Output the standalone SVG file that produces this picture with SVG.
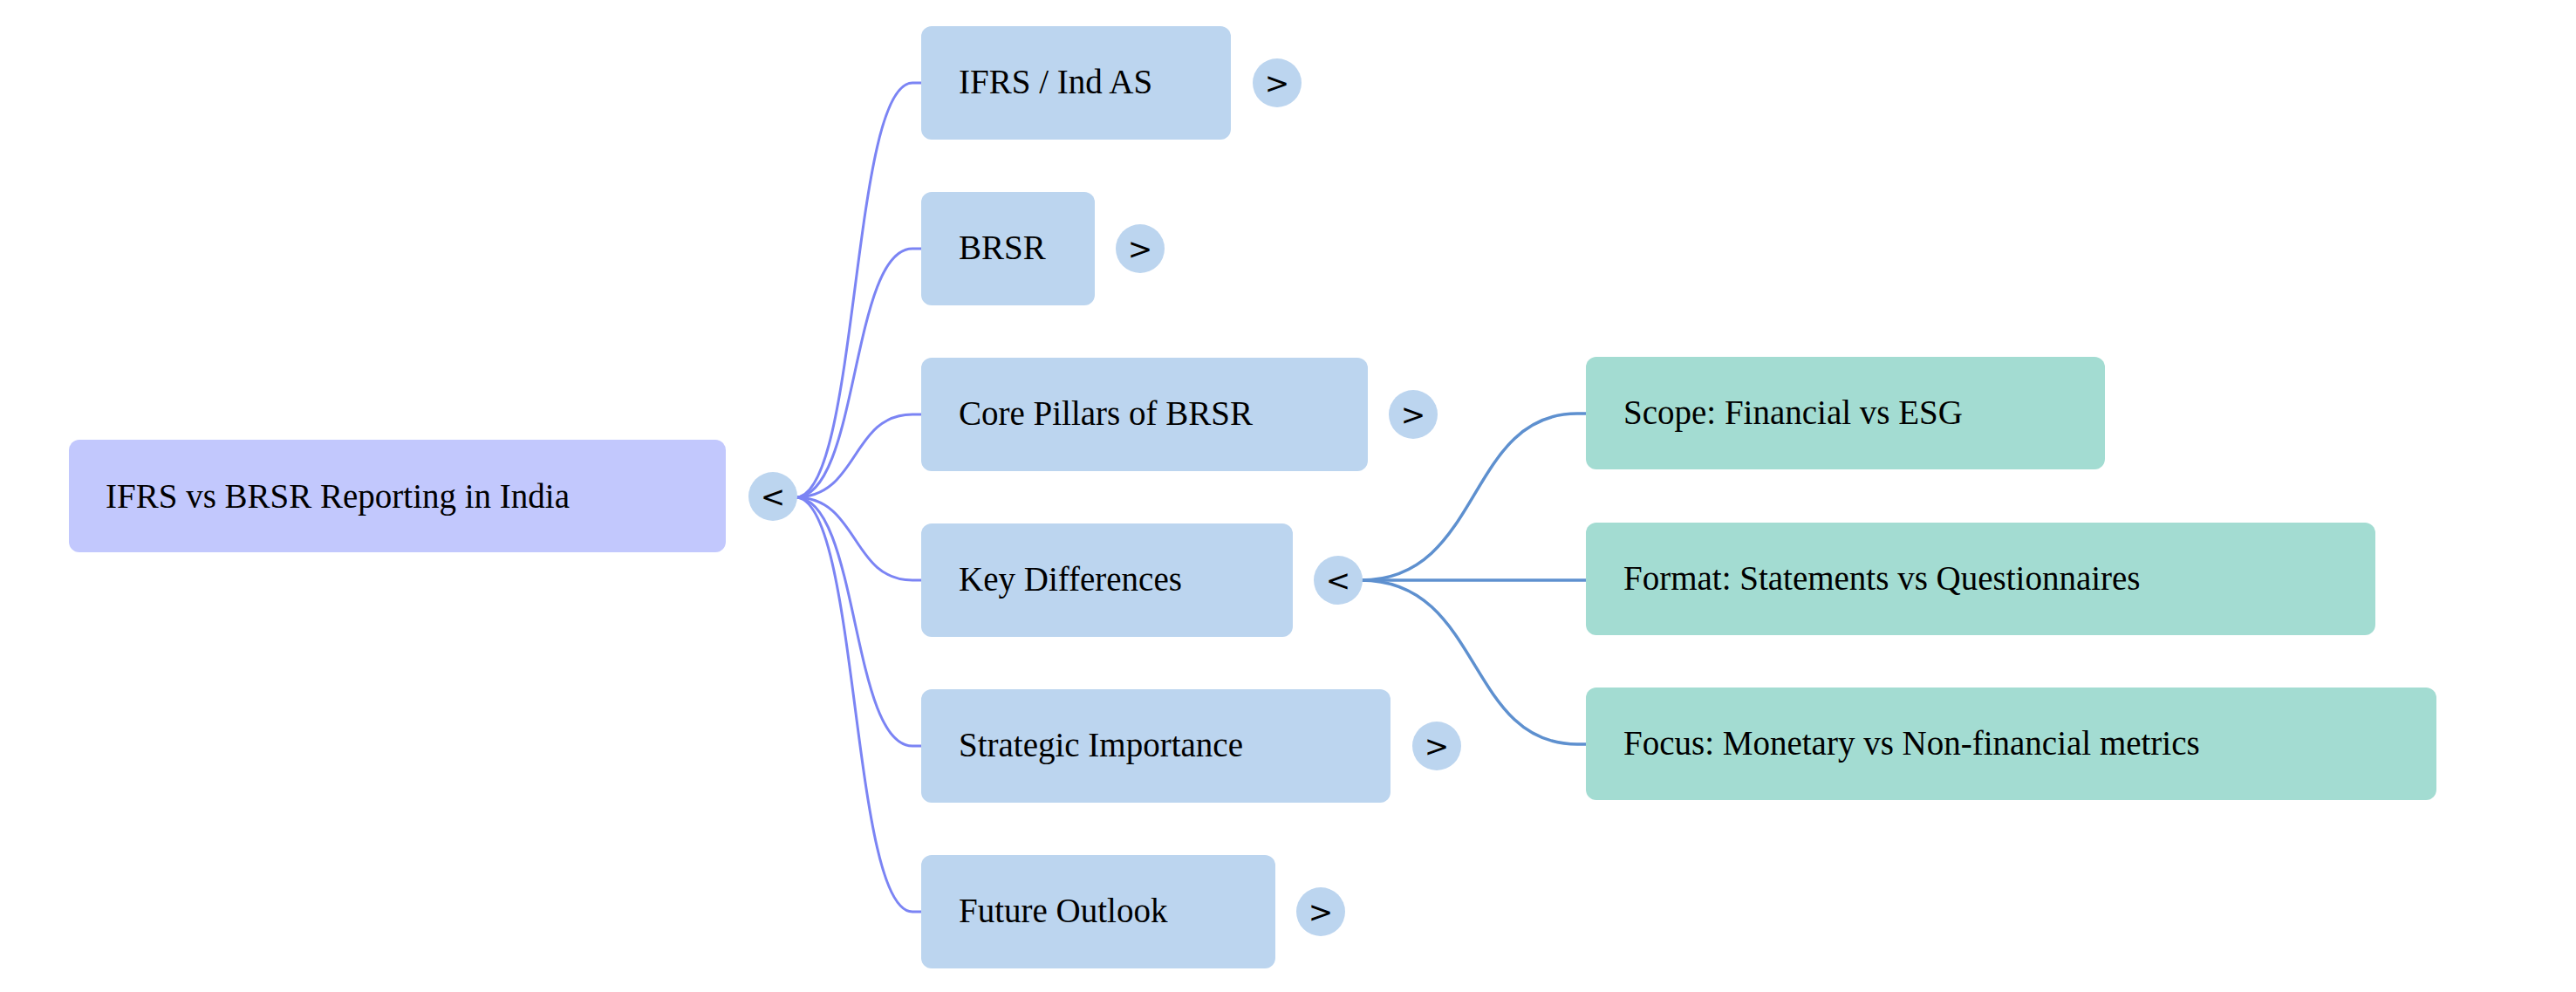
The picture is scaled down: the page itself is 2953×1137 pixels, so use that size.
<svg xmlns="http://www.w3.org/2000/svg" width="2953" height="1137" viewBox="0 0 2953 1137">
<style>
.t{font-family:"Liberation Serif","Times New Roman",serif;font-size:39px;fill:#000;dominant-baseline:central}
.tg{font-family:"DejaVu Sans",sans-serif;font-size:34px;fill:#000;text-anchor:middle;dominant-baseline:central}
.e1{fill:none;stroke:#7b84f4;stroke-width:3}
.e2{fill:none;stroke:#5e90cf;stroke-width:3.5}
.c{fill:#bcd5ef}
.g{fill:#a3dcd2}
</style>
<g id="connectors">
<path class="e1" d="M912 570 C985 570 975 95 1046 95 L1056 95"/>
<path class="e1" d="M912 570 C985 570 975 285 1046 285 L1056 285"/>
<path class="e1" d="M912 570 C985 570 975 475 1046 475 L1056 475"/>
<path class="e1" d="M912 570 C985 570 975 665 1046 665 L1056 665"/>
<path class="e1" d="M912 570 C985 570 975 855 1046 855 L1056 855"/>
<path class="e1" d="M912 570 C985 570 975 1045 1046 1045 L1056 1045"/>
<path class="e2" d="M1560 665 C1700 665 1680 474 1808 474 L1818 474"/>
<path class="e2" d="M1560 665 L1818 665"/>
<path class="e2" d="M1560 665 C1700 665 1680 853 1808 853 L1818 853"/>
</g>
<g id="root"><rect x="79" y="504" width="753" height="129" rx="12" fill="#c2c8fd"/><text class="t" x="121" y="568">IFRS vs BRSR Reporting in India</text><circle class="c" cx="886" cy="569" r="28"/><text class="tg" x="886" y="569">&lt;</text></g>
<g id="n1"><rect class="c" x="1056" y="30" width="355" height="130" rx="12"/><text class="t" x="1099" y="93">IFRS / Ind AS</text><circle class="c" cx="1464" cy="95" r="28"/><text class="tg" x="1464" y="95">&gt;</text></g>
<g id="n2"><rect class="c" x="1056" y="220" width="199" height="130" rx="12"/><text class="t" x="1099" y="283">BRSR</text><circle class="c" cx="1307" cy="285" r="28"/><text class="tg" x="1307" y="285">&gt;</text></g>
<g id="n3"><rect class="c" x="1056" y="410" width="512" height="130" rx="12"/><text class="t" x="1099" y="473">Core Pillars of BRSR</text><circle class="c" cx="1620" cy="475" r="28"/><text class="tg" x="1620" y="475">&gt;</text></g>
<g id="n4"><rect class="c" x="1056" y="600" width="426" height="130" rx="12"/><text class="t" x="1099" y="663">Key Differences</text><circle class="c" cx="1534" cy="665" r="28"/><text class="tg" x="1534" y="665">&lt;</text></g>
<g id="n5"><rect class="c" x="1056" y="790" width="538" height="130" rx="12"/><text class="t" x="1099" y="853">Strategic Importance</text><circle class="c" cx="1647" cy="855" r="28"/><text class="tg" x="1647" y="855">&gt;</text></g>
<g id="n6"><rect class="c" x="1056" y="980" width="406" height="130" rx="12"/><text class="t" x="1099" y="1043">Future Outlook</text><circle class="c" cx="1514" cy="1045" r="28"/><text class="tg" x="1514" y="1045">&gt;</text></g>
<g id="g1"><rect class="g" x="1818" y="409" width="595" height="129" rx="12"/><text class="t" x="1861" y="472">Scope: Financial vs ESG</text></g>
<g id="g2"><rect class="g" x="1818" y="599" width="905" height="129" rx="12"/><text class="t" x="1861" y="662">Format: Statements vs Questionnaires</text></g>
<g id="g3"><rect class="g" x="1818" y="788" width="975" height="129" rx="12"/><text class="t" x="1861" y="851">Focus: Monetary vs Non-financial metrics</text></g>
</svg>
